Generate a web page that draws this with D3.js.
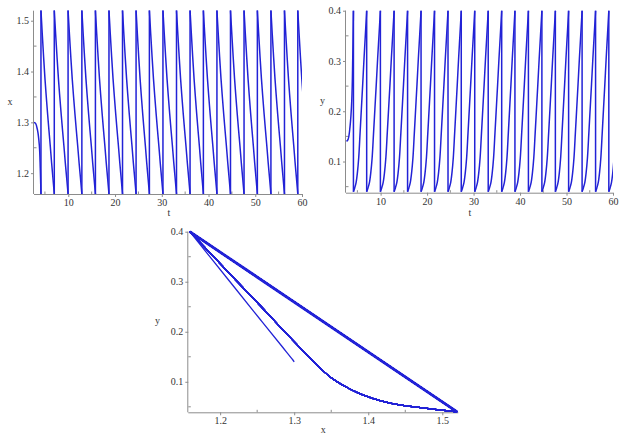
<!DOCTYPE html>
<html><head><meta charset="utf-8">
<script src="https://cdn.jsdelivr.net/npm/d3@7/dist/d3.min.js"></script>
<style>
html,body{margin:0;padding:0;background:#fff;}
svg{display:block;}
text{font-family:"Liberation Serif","DejaVu Serif",serif;font-size:10px;fill:#333;}
</style></head>
<body>
<svg id="c" width="627" height="437"></svg>
<script>
// ---- data ----
const tStart = 2.66;
const tEnd = 60;
// impulse (jump) times
const jumpTimes = [4.15, 7.0, 9.95, 12.9, 15.8, 18.7, 21.6, 24.5, 27.35, 30.25,
                   33.15, 36.05, 38.9, 41.8, 44.7, 47.6, 50.45, 53.35, 56.25, 59.1];
// initial transient before first jump
const initT = [2.66, 3.0, 3.4, 3.8, 4.0, 4.15];
const initX = [1.3, 1.298, 1.285, 1.255, 1.21, 1.159];
const initY = [0.14, 0.144, 0.168, 0.223, 0.306, 0.4];
// shape of one cycle (fraction of period -> x, y)
const cyclePhase = [0, 0.1, 0.2, 0.3, 0.4, 0.5, 0.6, 0.7, 0.8, 0.9, 1.0];
const cycleX = [1.52, 1.473, 1.428, 1.386, 1.350, 1.316, 1.284, 1.253, 1.220, 1.190, 1.159];
const cycleY = [0.04, 0.048, 0.058, 0.078, 0.108, 0.156, 0.205, 0.254, 0.305, 0.352, 0.4];
// ticks
const tTicks = [10, 20, 30, 40, 50, 60];
const tMinor = [5, 15, 25, 35, 45, 55];
const xTicks = [1.2, 1.3, 1.4, 1.5];
const xMinor = [1.25, 1.35, 1.45];
const yTicks = [0.1, 0.2, 0.3, 0.4];
const yMinor = [0.05, 0.15, 0.25, 0.35];

// ---- build trajectory segments ----
const segments = [];
segments.push(initT.map((t, i) => ({t, x: initX[i], y: initY[i]})));
const jumps = [];
jumpTimes.forEach((tk, k) => {
  const period = k < jumpTimes.length - 1 ? jumpTimes[k + 1] - tk : tk - jumpTimes[k - 1];
  const seg = [];
  for (let i = 0; i < cyclePhase.length; i++) {
    const t = tk + cyclePhase[i] * period;
    seg.push({t, x: cycleX[i], y: cycleY[i]});
    if (t > tEnd) break;
  }
  segments.push(seg);
  jumps.push({t: tk, x0: cycleX[cycleX.length - 1], y0: cycleY[cycleY.length - 1], x1: cycleX[0], y1: cycleY[0]});
});

const svg = d3.select("#c");
const blue = "#2222d6";
const axisCol = "#8c8c8c";

function panel(opt) {
  const g = svg.append("g");
  const xs = d3.scaleLinear().domain(opt.xDom).range([opt.left, opt.right]);
  const ys = d3.scaleLinear().domain(opt.yDom).range([opt.bottom, opt.top]);
  const id = "clip" + Math.round(opt.left) + "_" + Math.round(opt.top);
  svg.append("clipPath").attr("id", id).append("rect")
    .attr("x", opt.left).attr("y", opt.top - 3).attr("width", opt.right - opt.left).attr("height", opt.bottom - opt.top + 4);

  // axes
  const xa = d3.axisBottom(xs).tickValues(opt.xTicks).tickSize(3).tickFormat(opt.xFmt);
  const gx = g.append("g").attr("transform", `translate(0,${opt.bottom})`).call(xa);
  const ya = d3.axisLeft(ys).tickValues(opt.yTicks).tickSize(3).tickFormat(opt.yFmt);
  const gy = g.append("g").attr("transform", `translate(${opt.left},0)`).call(ya);
  [gx, gy].forEach(a => {
    a.select(".domain").attr("stroke", axisCol).attr("stroke-width", 1);
    a.selectAll(".tick line").attr("stroke", axisCol);
    a.selectAll(".tick text").attr("fill", "#333").style("font-family", '"Liberation Serif",serif').style("font-size", "10px");
  });
  gx.select(".domain").attr("d", `M${opt.left},0.5H${opt.right}`);
  gy.select(".domain").attr("d", `M-0.5,${opt.bottom}V${opt.top}`);
  gx.selectAll(".tick text").attr("y", 5).attr("dy", "0.71em");
  gy.selectAll(".tick text").attr("dx", "0.1em");
  // minor ticks
  g.selectAll(null).data(opt.xMinor).enter().append("line")
    .attr("x1", d => xs(d)).attr("x2", d => xs(d))
    .attr("y1", opt.bottom).attr("y2", opt.bottom - 2.5).attr("stroke", axisCol);
  g.selectAll(null).data(opt.yMinor).enter().append("line")
    .attr("y1", d => ys(d)).attr("y2", d => ys(d))
    .attr("x1", opt.left).attr("x2", opt.left + 2.5).attr("stroke", axisCol);
  // axis titles
  g.append("text").attr("x", opt.xLab[0]).attr("y", opt.xLab[1]).attr("text-anchor", "middle").text(opt.xName);
  g.append("text").attr("x", opt.yLab[0]).attr("y", opt.yLab[1]).attr("text-anchor", "middle").text(opt.yName);

  const plot = g.append("g").attr("clip-path", `url(#${id})`);
  return {xs, ys, plot};
}

// ---- top-left: x(t) ----
const p1 = panel({left: 34, right: 302, top: 10.7, bottom: 194,
  xDom: [tStart, tEnd], yDom: [1.159, 1.5197],
  xTicks: tTicks, yTicks: xTicks, xMinor: tMinor, yMinor: xMinor,
  xFmt: d3.format("d"), yFmt: d3.format(".1f"),
  xLab: [169, 216], yLab: [10, 105], xName: "t", yName: "x"});
// ---- top-right: y(t) ----
const p2 = panel({left: 346, right: 613, top: 10.7, bottom: 192.7,
  xDom: [2.55, tEnd], yDom: [0.038, 0.4],
  xTicks: tTicks, yTicks: yTicks, xMinor: tMinor, yMinor: yMinor,
  xFmt: d3.format("d"), yFmt: d3.format(".1f"),
  xLab: [470, 216], yLab: [322.5, 104], xName: "t", yName: "y"});
// ---- bottom: phase portrait ----
const p3 = panel({left: 188.3, right: 458.3, top: 231.7, bottom: 412.3,
  xDom: [1.157, 1.5216], yDom: [0.039, 0.4],
  xTicks: xTicks, yTicks: yTicks, xMinor: xMinor, yMinor: yMinor,
  xFmt: d3.format(".1f"), yFmt: d3.format(".1f"),
  xLab: [323.3, 433], yLab: [157.5, 324], xName: "x", yName: "y"});

const curve = d3.curveCatmullRom.alpha(0.5);
// time series
const lx = d3.line().x(d => p1.xs(d.t)).y(d => p1.ys(d.x)).curve(curve);
const ly = d3.line().x(d => p2.xs(d.t)).y(d => p2.ys(d.y)).curve(curve);
segments.forEach(s => {
  p1.plot.append("path").attr("d", lx(s)).attr("fill", "none").attr("stroke", blue).attr("stroke-width", 1.5);
  p2.plot.append("path").attr("d", ly(s)).attr("fill", "none").attr("stroke", blue).attr("stroke-width", 1.5);
});
jumps.forEach(j => {
  p1.plot.append("line").attr("x1", p1.xs(j.t)).attr("x2", p1.xs(j.t))
    .attr("y1", p1.ys(j.x0)).attr("y2", p1.ys(j.x1)).attr("stroke", blue).attr("stroke-width", 1.5);
  p2.plot.append("line").attr("x1", p2.xs(j.t)).attr("x2", p2.xs(j.t))
    .attr("y1", p2.ys(j.y0)).attr("y2", p2.ys(j.y1)).attr("stroke", blue).attr("stroke-width", 1.5);
});
// phase portrait
const lp = d3.line().x(d => p3.xs(d.x)).y(d => p3.ys(d.y)).curve(curve);
segments.forEach(s => {
  p3.plot.append("path").attr("d", lp(s)).attr("fill", "none").attr("stroke", blue).attr("stroke-width", 1.3);
});
jumps.forEach(j => {
  p3.plot.append("line").attr("x1", p3.xs(j.x0)).attr("y1", p3.ys(j.y0))
    .attr("x2", p3.xs(j.x1)).attr("y2", p3.ys(j.y1)).attr("stroke", blue).attr("stroke-width", 1.4);
});
p3.plot.append("line").attr("x1", p3.xs(cycleX[cycleX.length - 1])).attr("y1", p3.ys(cycleY[cycleY.length - 1]))
  .attr("x2", p3.xs(cycleX[0])).attr("y2", p3.ys(cycleY[0])).attr("stroke", blue).attr("stroke-width", 2.8);
</script>
</body></html>
